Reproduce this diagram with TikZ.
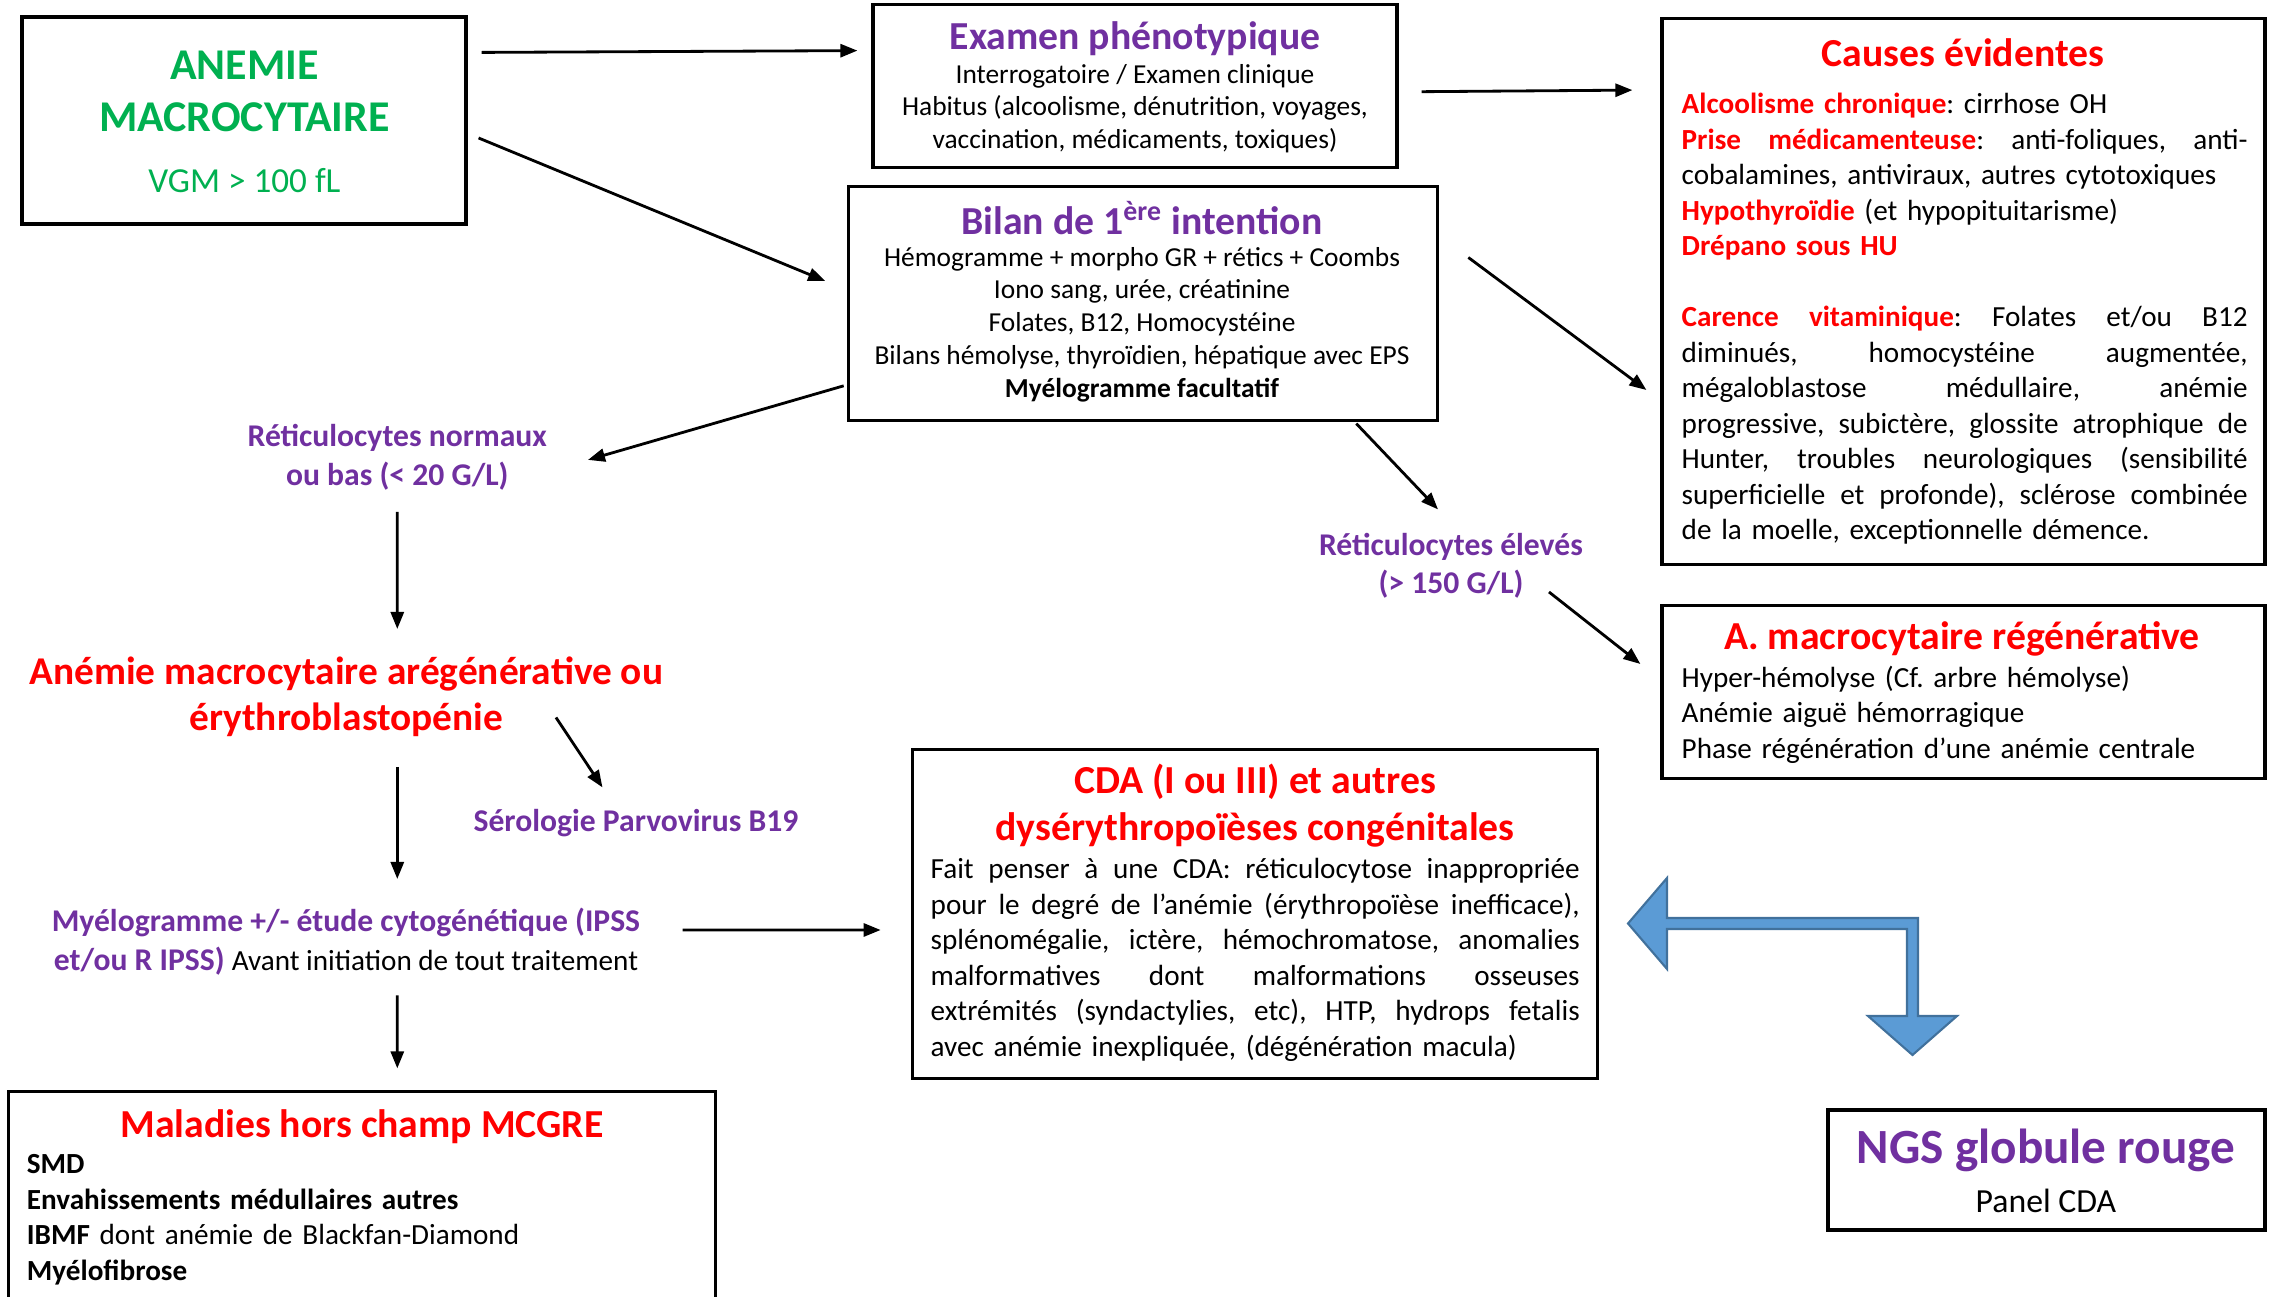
\documentclass[tikz,border=0pt]{standalone}
\usepackage{fontspec}
\setmainfont{Carlito}
\usetikzlibrary{arrows.meta}
\definecolor{mvert}{HTML}{00B050}
\definecolor{mviolet}{HTML}{7030A0}
\definecolor{mrouge}{HTML}{FF0000}
\definecolor{mbleu}{HTML}{5B9BD5}
\definecolor{mbleufonce}{HTML}{41719C}
\tikzset{
    boite/.style={draw=black, line width=0.9pt, inner sep=0pt},
    titre/.style={font=\bfseries\fontsize{11.3}{13.6}\selectfont, inner sep=0pt, align=center},
    corps/.style={font=\fontsize{8.3}{10.1}\selectfont, inner sep=0pt, align=left},
    petit/.style={font=\fontsize{7.8}{9.3}\selectfont, inner sep=0pt, align=center},
    etape/.style={font=\bfseries\fontsize{9}{11.1}\selectfont, text=mviolet, inner sep=0pt, align=center},
    fleche/.style={-{Triangle[length=1.7mm, width=1.3mm]}, black, line width=0.8pt},
}
\frenchspacing
\newcommand{\motcle}[1]{{\bfseries\color{mrouge}#1}}
\newcommand{\jligne}[1]{\makebox[\hsize][s]{\spaceskip=.3333em plus 1fil\relax #1}}

\begin{document}
\begin{tikzpicture}
    \useasboundingbox (0,0) rectangle (22.82,-12.97);
    \clip (0,0) rectangle (22.82,-12.97);

    % boites
    \node[boite, minimum width=4.44cm, minimum height=2.07cm] (ANEMIE) at (2.44,-1.205) {};
    \node[boite, minimum width=5.24cm, minimum height=1.63cm] (EXAMEN) at (11.35,-0.857) {};
    \node[boite, minimum width=5.895cm, minimum height=2.343cm] (BILAN) at (11.43,-3.035) {};
    \node[boite, minimum width=6.03cm, minimum height=5.458cm] (CAUSES) at (19.635,-2.918) {};
    \node[boite, minimum width=6.03cm, minimum height=1.732cm] (REGEN) at (19.635,-6.92) {};
    \node[boite, minimum width=6.845cm, minimum height=3.29cm] (CDA) at (12.55,-9.14) {};
    \node[boite, minimum width=7.07cm, minimum height=2.2cm] (MCGRE) at (3.62,-12.015) {};
    \node[boite, minimum width=4.37cm, minimum height=1.2cm] (NGS) at (20.465,-11.70) {};

    % contenu des boites
    \node[font=\bfseries\fontsize{12.5}{14.9}\selectfont, text=mvert, align=center, inner sep=0pt] (ANEMIET) at (2.445,-0.917) {ANEMIE\\MACROCYTAIRE};
    \node[font=\fontsize{10}{12}\selectfont, text=mvert, inner sep=0pt] (VGM) at (2.445,-1.805) {VGM > 100 fL};

    \node[titre, text=mviolet] (EXAMENT) at (11.35,-0.39) {Examen phénotypique};
    \node[petit] (EXAMENB) at (11.35,-1.085) {Interrogatoire / Examen clinique\\Habitus (alcoolisme, dénutrition, voyages,\\vaccination, médicaments, toxiques)};

    \node[titre, text=mviolet] (BILANT) at (11.42,-2.185) {Bilan de 1\textsuperscript{ère} intention};
    \node[petit] (BILANB) at (11.42,-3.245) {Hémogramme + morpho GR + rétics + Coombs\\Iono sang, urée, créatinine\\Folates, B12, Homocystéine\\Bilans hémolyse, thyroïdien, hépatique avec EPS\\\textbf{Myélogramme facultatif}};

    \node[titre, text=mrouge] (CAUSEST) at (19.63,-0.524) {Causes évidentes};
    \node[corps, text width=5.66cm, anchor=west] (CAUSESB) at (16.81,-3.19) {%
        \motcle{Alcoolisme chronique}: cirrhose OH\\
        \jligne{\motcle{Prise médicamenteuse}: anti-foliques, anti-}\\
        cobalamines, antiviraux, autres cytotoxiques\\
        \motcle{Hypothyroïdie} (et hypopituitarisme)\\
        \motcle{Drépano sous HU}\\
        \mbox{}\\
        \jligne{\motcle{Carence vitaminique}: Folates et/ou B12}\\
        \jligne{diminués, homocystéine augmentée,}\\
        \jligne{mégaloblastose médullaire, anémie}\\
        \jligne{progressive, subictère, glossite atrophique de}\\
        \jligne{Hunter, troubles neurologiques (sensibilité}\\
        \jligne{superficielle et profonde), sclérose combinée}\\
        de la moelle, exceptionnelle démence.};

    \node[titre, text=mrouge] (REGENT) at (19.62,-6.389) {A. macrocytaire régénérative};
    \node[corps, text width=5.66cm, anchor=west] (REGENB) at (16.81,-7.146) {Hyper-hémolyse (Cf. arbre hémolyse)\\Anémie aiguë hémorragique\\Phase régénération d’une anémie centrale};

    \node[titre, text=mrouge] (CDAT) at (12.55,-8.056) {CDA (I ou III) et autres\\dysérythropoïèses congénitales};
    \node[corps, text width=6.49cm, anchor=west] (CDAB) at (9.30,-9.597) {%
        \jligne{Fait penser à une CDA: réticulocytose inappropriée}\\
        \jligne{pour le degré de l’anémie (érythropoïèse inefficace),}\\
        \jligne{splénomégalie, ictère, hémochromatose, anomalies}\\
        \jligne{malformatives dont malformations osseuses}\\
        \jligne{extrémités (syndactylies, etc), HTP, hydrops fetalis}\\
        avec anémie inexpliquée, (dégénération macula)};

    \node[titre, text=mrouge] (MCGRET) at (3.62,-11.265) {Maladies hors champ MCGRE};
    \node[corps, text width=6.6cm, anchor=west] (MCGREB) at (0.262,-12.195) {\textbf{SMD}\\\textbf{Envahissements médullaires autres}\\\textbf{IBMF} dont anémie de Blackfan-Diamond\\\textbf{Myélofibrose}};

    \node[font=\bfseries\fontsize{14}{16}\selectfont, text=mviolet, inner sep=0pt] (NGST) at (20.46,-11.50) {NGS globule rouge};
    \node[font=\fontsize{9.6}{11}\selectfont, inner sep=0pt] (NGSB) at (20.46,-12.01) {Panel CDA};

    % textes libres
    \node[etape] (RETICBAS) at (3.973,-4.575) {Réticulocytes normaux\\ou bas (< 20 G/L)};
    \node[titre, text=mrouge, font=\bfseries\fontsize{11.2}{13.2}\selectfont] (AREGEN) at (3.464,-6.967) {Anémie macrocytaire arégénérative ou\\érythroblastopénie};
    \node[etape] (PARVO) at (6.36,-8.235) {Sérologie Parvovirus B19};
    \node[etape] (MYELO) at (3.46,-9.42) {Myélogramme +/- étude cytogénétique (IPSS\\et/ou R IPSS) {\mdseries\color{black}\fontsize{8.3}{11.1}\selectfont Avant initiation de tout traitement}};
    \node[etape, font=\bfseries\fontsize{9}{10.7}\selectfont] (RETICHAUT) at (14.51,-5.655) {Réticulocytes élevés\\(> 150 G/L)};

    % fleches
    \draw[fleche] ([shift={(0.14,-0.37)}]ANEMIE.north east) -- ([shift={(-0.14,-0.48)}]EXAMEN.north west);
    \draw[fleche] ([shift={(0.11,-0.175)}]ANEMIE.east) -- ([shift={(-0.215,0.225)}]BILAN.west);
    \draw[fleche] ([shift={(0.23,-0.06)}]EXAMEN.east) -- ([shift={(-0.28,-0.728)}]CAUSES.north west);
    \draw[fleche] ([shift={(0.29,-0.727)}]BILAN.north east) -- ([shift={(-0.14,-0.982)}]CAUSES.west);
    \draw[fleche] ([shift={(-0.03,0.364)}]BILAN.south west) -- ([shift={(1.907,-0.024)}]RETICBAS.center);
    \draw[fleche] ([shift={(-0.83,-0.014)}]BILAN.south east) -- ([shift={(-0.13,0.561)}]RETICHAUT.center);
    \draw[fleche] ([shift={(0.98,-0.265)}]RETICHAUT.center) -- ([shift={(-0.20,0.28)}]REGEN.west);
    \draw[fleche] ([shift={(0,-0.545)}]RETICBAS.center) -- ([shift={(0.509,0.677)}]AREGEN.center);
    \draw[fleche] ([shift={(2.096,-0.208)}]AREGEN.center) -- ([shift={(-0.335,0.361)}]PARVO.center);
    \draw[fleche] ([shift={(0.509,-0.703)}]AREGEN.center) -- ([shift={(0.513,0.63)}]MYELO.center);
    \draw[fleche] ([shift={(3.366,0.12)}]MYELO.center) -- ([shift={(-0.305,-0.16)}]CDA.west);
    \draw[fleche] ([shift={(0.513,-0.535)}]MYELO.center) -- ([shift={(0.353,0.215)}]MCGRE.north);

    % grosse fleche bleue
    \draw[fill=mbleu, draw=mbleufonce, line width=0.6pt] (16.28,-9.235) -- (16.67,-8.78) -- (16.67,-9.18) -- (19.18,-9.18) -- (19.18,-10.16) -- (19.57,-10.16) -- (19.125,-10.55) -- (18.68,-10.16) -- (19.07,-10.16) -- (19.07,-9.29) -- (16.67,-9.29) -- (16.67,-9.69) -- cycle;
\end{tikzpicture}
\end{document}
